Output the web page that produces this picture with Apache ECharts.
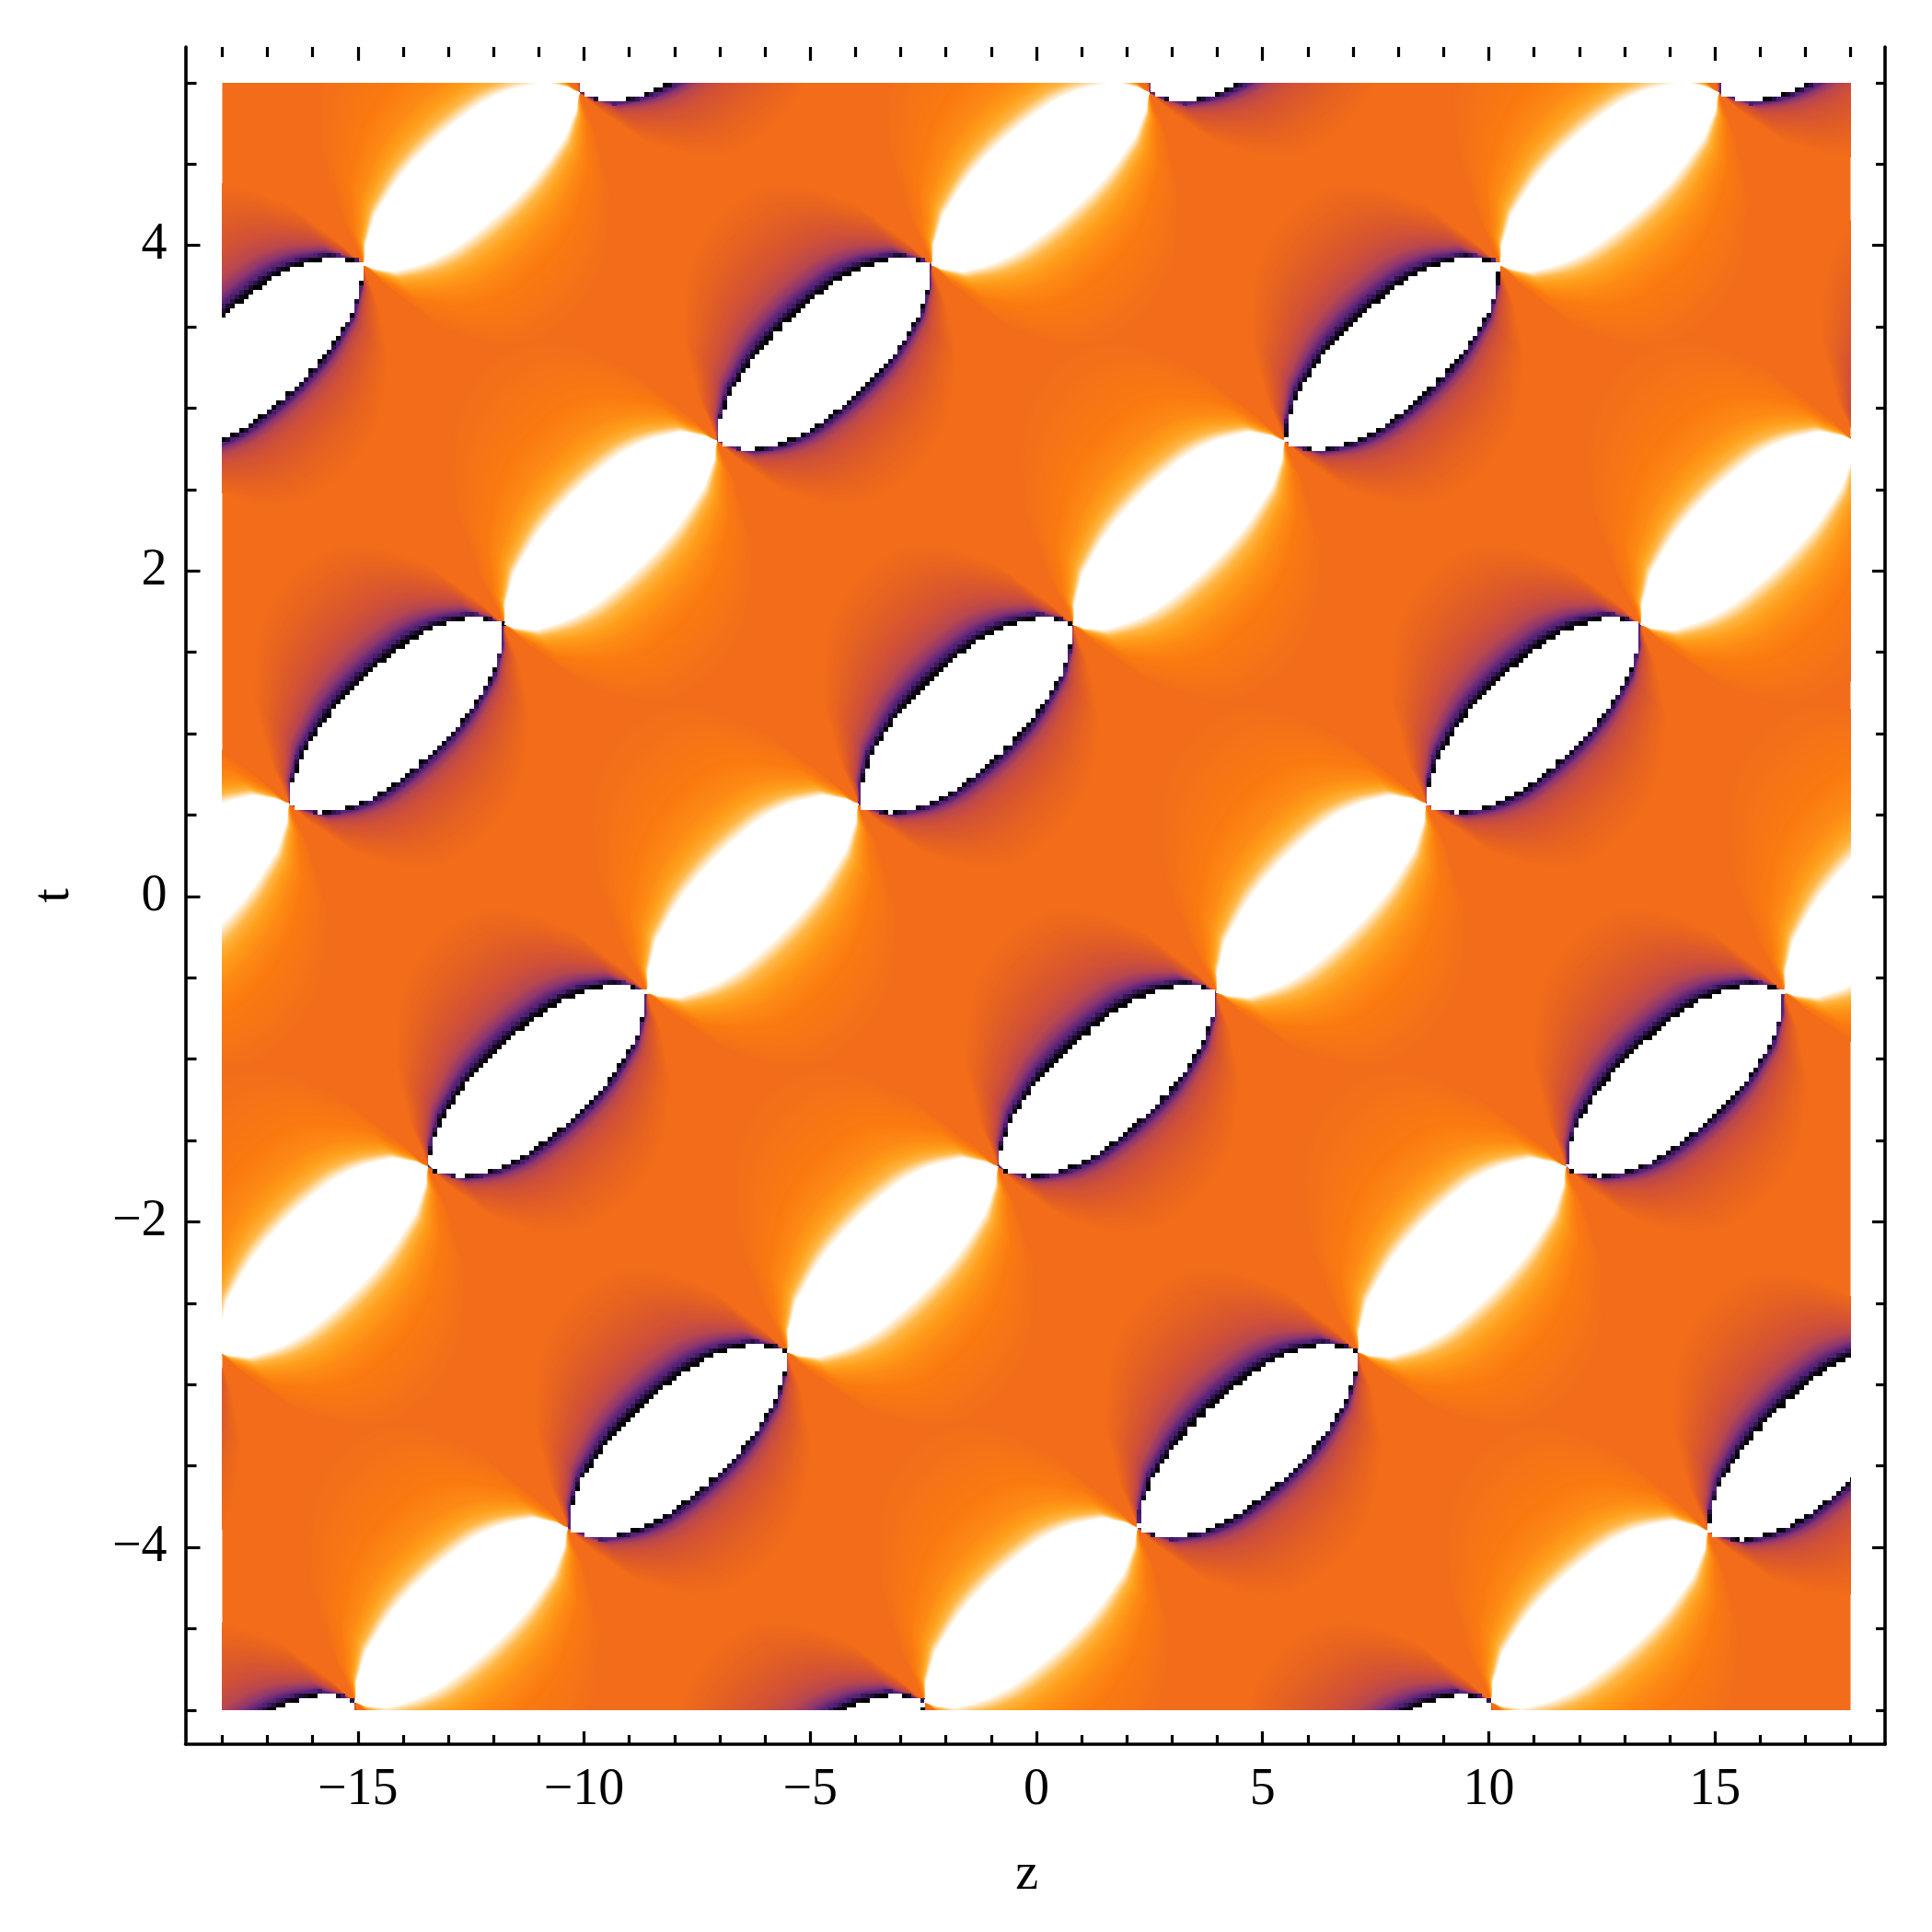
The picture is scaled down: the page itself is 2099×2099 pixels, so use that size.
<!DOCTYPE html>
<html>
<head>
<meta charset="utf-8">
<style>html,body{margin:0;padding:0;background:#fff}#c{width:2099px;height:2099px}</style>
<script src="https://cdn.jsdelivr.net/npm/echarts@6/dist/echarts.min.js"></script>
</head>
<body>
<div id="c"></div>
<script>
// Tick labels / tick positions
const zMajorTicks = [-15, -10, -5, 0, 5, 10, 15];
const zMinorTicks = [-18,-17,-16,-14,-13,-12,-11,-9,-8,-7,-6,-4,-3,-2,-1,1,2,3,4,6,7,8,9,11,12,13,14,16,17,18];
const tMajorTicks = [-4, -2, 0, 2, 4];
const tMinorTicks = [-5,-4.5,-3.5,-3,-2.5,-1.5,-1,-0.5,0.5,1,1.5,2.5,3,3.5,4.5,5];

// Lobes: [z of lower-left tip, t of lower-left tip, z of upper-right tip, t of upper-right tip]
// Sharp lobes: white core with a black/purple rim
const darkLobes = [
  [-19.64, 2.80, -14.88, 3.88], [-7.06, 2.80, -2.32, 3.88], [5.49, 2.80, 10.24, 3.88], [18.10, 2.80, 22.85, 3.88],
  [-10.10, 4.94, -5.35, 6.04], [2.50, 4.94, 7.25, 6.04], [15.09, 4.94, 19.84, 6.04],
  [-16.52, 0.57, -11.77, 1.67], [-3.94, 0.57, 0.81, 1.67], [8.62, 0.57, 13.36, 1.67],
  [-13.45, -1.66, -8.61, -0.59], [-0.85, -1.66, 3.98, -0.59], [11.71, -1.66, 16.54, -0.59],
  [-22.98, -3.87, -18.10, -2.80], [-10.36, -3.88, -5.51, -2.80], [2.24, -3.88, 7.11, -2.80], [14.85, -3.90, 19.58, -2.80],
  [-19.82, -6.05, -15.07, -4.95], [-7.23, -6.05, -2.48, -4.95], [5.30, -6.05, 10.05, -4.95]
];
// Soft lobes: white core with a yellow/orange glow
const glowLobes = [
  [-14.88, 3.88, -10.10, 4.94], [-2.32, 3.88, 2.50, 4.94], [10.24, 3.88, 15.09, 4.94],
  [-24.30, 1.67, -19.64, 2.80], [-11.77, 1.67, -7.06, 2.80], [0.81, 1.67, 5.49, 2.80], [13.36, 1.67, 18.10, 2.80],
  [-21.20, -0.59, -16.52, 0.57], [-8.61, -0.59, -3.94, 0.57], [3.98, -0.59, 8.62, 0.57], [16.54, -0.59, 21.20, 0.57],
  [-18.10, -2.80, -13.45, -1.66], [-5.51, -2.80, -0.85, -1.66], [7.11, -2.80, 11.71, -1.66],
  [-15.07, -4.95, -10.36, -3.88], [-2.48, -4.95, 2.24, -3.88], [10.05, -4.95, 14.85, -3.90]
];

// Style: shading bands from the outside in (colour, px beyond the core on the upper and the lower side)
const bgColor = '#f26c1a';
const darkBandColors = ['#f26c1a','#e8641f','#dc5a2a','#d05038','#b8474f','#8a3572','#4f2078','#1c0d30','#000000'];
const darkBandUpper  = [135, 105, 76, 52, 33, 20, 11, 6, 3];
const darkBandLower  = [105, 78, 52, 32, 19, 11, 6, 3, 1.5];
const glowBandColors = ['#f26c1a','#f67416','#fa7a10','#fd8a14','#ffa01c','#ffb848','#ffe0b0','#ffffff'];
const glowBandUpper  = [170, 115, 75, 44, 26, 14, 6, 0];
const glowBandLower  = [140, 105, 72, 48, 29, 16, 7, 0];
// Style: outline of a lobe edge across its length, as a share of the tip-to-tip distance
const edgeS = [0, 0.05, 0.146, 0.32, 0.507, 0.70, 0.816, 0.926, 0.98, 1];
const edgeH = [0, 0.045, 0.10, 0.148, 0.168, 0.165, 0.14, 0.092, 0.035, 0];
const darkCoreUpper = 1.04, darkCoreLower = 1.12;
const glowCoreUpper = 1.15, glowCoreLower = 0.95, peakPx = 50, stepsPerBand = 8, cellPx = 5;

function hex(c){return [1,3,5].map(i=>parseInt(c.substr(i,2),16));}
function mixColor(a,b,f){const x=hex(a),y=hex(b);return 'rgb('+x.map((v,i)=>Math.round(v+(y[i]-v)*f)).join(',')+')';}
function lerp(a,b,f){return a+(b-a)*f;}
function edgeAt(s){
  let i=0; while(i<edgeS.length-2 && s>edgeS[i+1]) i++;
  const p0=edgeH[Math.max(i-1,0)],p1=edgeH[i],p2=edgeH[i+1],p3=edgeH[Math.min(i+2,edgeH.length-1)];
  const f=(s-edgeS[i])/(edgeS[i+1]-edgeS[i]);
  return Math.max(0,0.5*(2*p1+(p2-p0)*f+(2*p0-5*p1+4*p2-p3)*f*f+(3*p1-p0-3*p2+p3)*f*f*f));
}
function bandAt(colors,upper,lower,pos){
  const i=Math.min(Math.floor(pos),colors.length-2),f=pos-i;
  return {color:mixColor(colors[i],colors[i+1],f),up:lerp(upper[i],upper[i+1],f),low:lerp(lower[i],lower[i+1],f)};
}
function snapPoints(pts){
  const out=[];let last=null;
  pts.forEach(p=>{
    const q=[Math.round(p[0]/cellPx)*cellPx,Math.round(p[1]/cellPx)*cellPx];
    if(last&&q[0]!==last[0]&&q[1]!==last[1]) out.push([q[0],last[1]]);
    out.push(q);last=q;
  });
  return out;
}
function lobeItem(params,api){
  const A=api.coord([api.value(0),api.value(1)]),B=api.coord([api.value(2),api.value(3)]);
  const kind=api.value(4),pos=api.value(5);
  const dx=B[0]-A[0],dy=B[1]-A[1],L=Math.sqrt(dx*dx+dy*dy);
  const nx=dy/L,ny=-dx/L;
  let fU,fL,color,snap=false;
  if(kind===2){color='#ffffff';fU=darkCoreUpper;fL=darkCoreLower;snap=true;}
  else if(kind===3){color='#ffffff';fU=glowCoreUpper;fL=glowCoreLower;}
  else if(kind===0){
    const b=bandAt(darkBandColors,darkBandUpper,darkBandLower,pos);
    color=b.color;fU=darkCoreUpper+b.up/peakPx;fL=darkCoreLower+b.low/peakPx;snap=pos>=darkBandColors.length-3;
  } else {
    const b=bandAt(glowBandColors,glowBandUpper,glowBandLower,pos);
    color=b.color;fU=glowCoreUpper+b.up/peakPx;fL=glowCoreLower+b.low/peakPx;
  }
  const pts=[],n=110;
  for(let i=0;i<=n;i++){
    const s=i/n,h=edgeAt(s)*L*fU;
    pts.push([A[0]+dx*s+nx*h,A[1]+dy*s+ny*h]);
  }
  for(let i=n-1;i>0;i--){
    const s=i/n,h=edgeAt(1-s)*L*fL;
    pts.push([A[0]+dx*s-nx*h,A[1]+dy*s-ny*h]);
  }
  return {type:'polygon',shape:{points:snap?snapPoints(pts):pts},style:{fill:color},silent:true};
}
const lobeRows=[];
const darkLast=darkBandColors.length-1,glowLast=glowBandColors.length-1;
const total=Math.max(darkLast,glowLast)*stepsPerBand;
for(let k=0;k<=total;k++){
  const u=k/total;
  glowLobes.forEach(l=>lobeRows.push([...l,1,u*glowLast]));
  darkLobes.forEach(l=>lobeRows.push([...l,0,u*darkLast]));
}
glowLobes.forEach(l=>lobeRows.push([...l,3,0]));
darkLobes.forEach(l=>lobeRows.push([...l,2,0]));

const zoomOuter={min:-18.81,max:18.76},tOuter={min:-5.21,max:5.22};
const font='"Liberation Serif"';
const fmt=v=>String(v).replace('-','\u2212');
function xAx(pos,vals,len,extra){
  return Object.assign({type:'value',gridIndex:0,position:pos,min:zoomOuter.min,max:zoomOuter.max,
    splitLine:{show:false},axisLine:{show:false,onZero:false},
    axisTick:{show:true,inside:true,length:len,customValues:vals,lineStyle:{color:'#000',width:3.2}},
    axisLabel:{show:false}},extra||{});
}
function yAx(pos,vals,len,extra){
  return Object.assign({type:'value',gridIndex:0,position:pos,min:tOuter.min,max:tOuter.max,
    splitLine:{show:false},axisLine:{show:false,onZero:false},
    axisTick:{show:true,inside:true,length:len,customValues:vals,lineStyle:{color:'#000',width:3.2}},
    axisLabel:{show:false}},extra||{});
}
const axisLine={show:true,onZero:false,lineStyle:{color:'#000',width:3.6}};
const option={
  animation:false,backgroundColor:'#fff',
  grid:[
    {left:201.5,top:51,width:1846.5,height:1844,containLabel:false,show:false},
    {left:241.5,top:90,width:1769,height:1768,show:true,backgroundColor:bgColor,borderWidth:0}
  ],
  xAxis:[
    xAx('bottom',zMajorTicks,14,{axisLine,name:'z',nameLocation:'middle',nameGap:114,
      nameTextStyle:{fontFamily:font,fontSize:56,color:'#000',padding:[0,18,0,0]},
      axisLabel:{show:true,customValues:zMajorTicks,formatter:fmt,margin:22,fontFamily:font,fontSize:56,color:'#000'}}),
    xAx('bottom',zMinorTicks,10),
    xAx('top',zMajorTicks,15),
    xAx('top',zMinorTicks,11),
    {type:'value',gridIndex:1,min:-18,max:18,show:false}
  ],
  yAxis:[
    yAx('left',tMajorTicks,16,{axisLine,name:'t',nameLocation:'middle',nameGap:114,nameRotate:90,
      nameTextStyle:{fontFamily:font,fontSize:56,color:'#000'},
      axisLabel:{show:true,customValues:tMajorTicks,formatter:fmt,margin:20,fontFamily:font,fontSize:56,color:'#000'}}),
    yAx('left',tMinorTicks,12),
    yAx('right',tMajorTicks,14,{axisLine}),
    yAx('right',tMinorTicks,10),
    {type:'value',gridIndex:1,min:-5,max:5,show:false}
  ],
  series:[{
    type:'custom',coordinateSystem:'cartesian2d',xAxisIndex:4,yAxisIndex:4,clip:true,
    progressive:0,silent:true,animation:false,
    encode:{x:[0,2],y:[1,3]},
    renderItem:lobeItem,data:lobeRows
  }]
};
const chart=echarts.init(document.getElementById('c'),null,{renderer:'canvas',width:2099,height:2099});
chart.setOption(option);
</script>
</body>
</html>
